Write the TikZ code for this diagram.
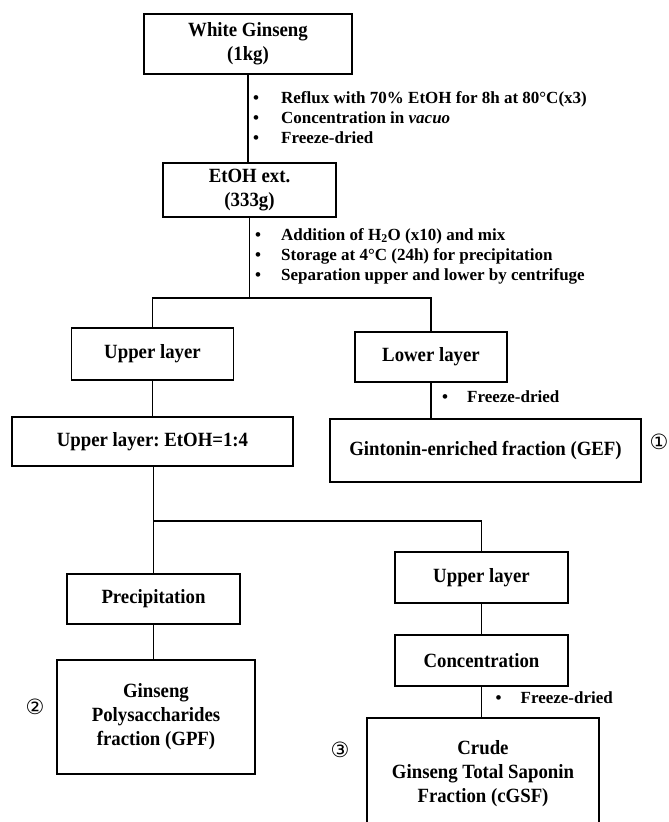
\documentclass[tikz,border=0pt]{standalone}
\usepackage{fontspec}
\setmainfont{Liberation Serif}
\newfontfamily\boxfont{Liberation Serif}[FakeStretch=0.93]
\newfontfamily\circfont{DejaVu Sans}
\usepackage{tikz}
\frenchspacing

\tikzset{
  box/.style={draw, line width=1.3pt, inner sep=0pt, align=center,
    font=\boxfont\bfseries\fontsize{20.2}{24}\selectfont},
  link/.style={line width=1.3pt},
  steplist/.style={inner sep=0pt, anchor=base west,
    font=\bfseries\fontsize{17}{20}\selectfont},
  mark num/.style={inner sep=0pt, font=\circfont\fontsize{21}{24}\selectfont}
}

\begin{document}
\begin{tikzpicture}[x=1pt, y=-1pt]
   \useasboundingbox (0,0) rectangle (669,822);
   \clip (0,0) rectangle (669,822);

   \node[box, minimum width=208, minimum height=60] (wg) at (248,44) {White Ginseng\\(1kg)};
   \node[box, minimum width=173, minimum height=54] (etoh) at (249.5,190) {EtOH ext.\\(333g)};

   \node[box, minimum width=162, minimum height=52] (up1) at (152.5,354) {Upper layer};
   \node[box, minimum width=152, minimum height=50] (low) at (431,357) {Lower layer};

   \node[box, minimum width=281, minimum height=49] (upeth) at (152.5,441.5) {Upper layer: EtOH=1:4};
   \node[box, minimum width=311, minimum height=63] (gef) at (485.5,450.5) {Gintonin-enriched fraction (GEF)};

   \node[box, minimum width=173, minimum height=50] (precip) at (153.5,599) {Precipitation};
   \node[box, minimum width=198, minimum height=114] (gpf) at (156,717) {Ginseng\\Polysaccharides\\fraction (GPF)};

   \node[box, minimum width=173, minimum height=51] (up2) at (481.5,577.5) {Upper layer};
   \node[box, minimum width=173, minimum height=51] (conc) at (481.5,660.5) {Concentration};
   \node[box, minimum width=232, minimum height=111] (cgsf) at (483,773.5) {Crude\\Ginseng Total Saponin\\Fraction (cGSF)};

   \coordinate (split1) at (249.5,298);
   \coordinate (split2) at (153.5,521);

   \draw[link] (wg.south) -- (wg.south |- etoh.north);
   \draw[link] (etoh.south) -- (split1);
   \draw[link] (up1.north) |- (split1) -| (low.north);
   \draw[link] (up1.south) -- (up1.south |- upeth.north);
   \draw[link] (low.south) -- (low.south |- gef.north);
   \draw[link] (upeth.south -| split2) -- (split2);
   \draw[link] (precip.north) |- (split2) -| (up2.north);
   \draw[link] (precip.south) -- (precip.south |- gpf.north);
   \draw[link] (up2) -- (conc);
   \draw[link] (conc.south) -- (conc.south |- cgsf.north);

   \node[steplist] (steps1) at (253,103) {\begin{tabular}[t]{@{}l@{\hspace{22pt}}l@{}}
     \textbullet & Reflux with 70\% EtOH for 8h at 80°C(x3)\\
     \textbullet & Concentration in \textit{vacuo}\\
     \textbullet & Freeze-dried
   \end{tabular}};
   \node[steplist] (steps2) at (255,240) {\begin{tabular}[t]{@{}l@{\hspace{20pt}}l@{}}
     \textbullet & Addition of H\textsubscript{2}O (x10) and mix\\
     \textbullet & Storage at 4°C (24h) for precipitation\\
     \textbullet & Separation upper and lower by centrifuge
   \end{tabular}};
   \node[steplist] (steps3) at (442,402) {\textbullet\hspace{19pt}Freeze-dried};
   \node[steplist] (steps4) at (495.5,703) {\textbullet\hspace{19pt}Freeze-dried};

   \node[mark num] (n1) at (659,442) {①};
   \node[mark num] (n2) at (35,707) {②};
   \node[mark num] (n3) at (340,750) {③};

\end{tikzpicture}
\end{document}
